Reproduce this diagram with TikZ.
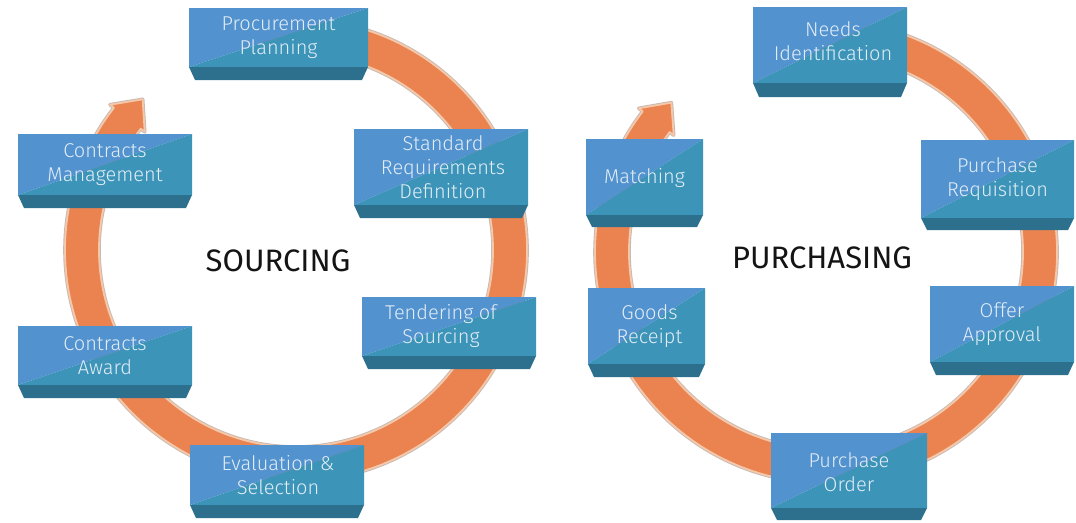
\documentclass[tikz,border=0pt]{standalone}
\usepackage{fontspec}
\setmainfont{Fira Sans}[UprightFont={* Light}]
\newfontfamily\headfont{Fira Sans}
\definecolor{boxA}{RGB}{82,146,207}
\definecolor{boxB}{RGB}{60,148,185}
\definecolor{boxC}{RGB}{45,112,142}
\definecolor{txt}{RGB}{226,237,246}
\definecolor{ringO}{RGB}{234,131,80}
\definecolor{ringEdge}{RGB}{246,200,170}
\definecolor{ringShadow}{RGB}{200,185,178}
\tikzset{
  boxtext/.style={text=txt, align=center, inner sep=0pt, font=\fontsize{20}{24}\selectfont},
  headtext/.style={text={rgb,255:red,20;green,20;blue,20}, inner sep=0pt, font=\headfont\fontsize{31}{36}\selectfont},
  ringback/.style={draw=ringShadow, line width=3.6pt, fill=ringShadow, line join=round},
  ringfront/.style={draw=ringEdge, line width=1.8pt, fill=ringO, line join=round},
}
% name, left, top, right, main bottom, trapezoid bottom, text, text shift
\newcommand\pbox[8]{%
  \fill[boxA] (#2,#3) -- (#4,#3) -- (#2,#5) -- cycle;
  \fill[boxB] (#4,#3) -- (#4,#5) -- (#2,#5) -- cycle;
  \fill[boxC] (#2,#5) -- (#4,#5) -- ({#4-6},#6) -- ({#2+6},#6) -- cycle;
  \node[boxtext, #8] (#1) at ({(#2+#4)/2},{(#3+#5)/2}) {#7};
}
% centre x, centre y, style, base angle, tip angle
\newcommand\ringpath[5]{%
  \begin{scope}[shift={(#1,#2)}]
    \path[#3] (-100:231) arc[start angle=-100, end angle=#4, radius=231]
      -- (#4:236) -- (#5:215) -- (#4:192) -- (#4:197)
      arc[start angle=#4, end angle=-100, radius=197] -- cycle;
  \end{scope}
}
\begin{document}
\begin{tikzpicture}[x=1pt, y=-1pt]
\useasboundingbox[fill=white] (0,0) rectangle (1076,522);
% rings
\ringpath{296}{250}{ringback}{218}{224.5}
\ringpath{296}{250}{ringfront}{218}{224.5}
\ringpath{826}{252}{ringback}{217.5}{224}
\ringpath{826}{252}{ringfront}{217.5}{224}
% centre labels
\node[headtext] (sourcing) at (278,261) {SOURCING};
\node[headtext] (purchasing) at (822,258) {PURCHASING};
% sourcing boxes
\pbox{pp}{189}{8}{368}{67}{80}{Procurement\\Planning}{}
\pbox{srd}{354}{129}{528}{205}{218}{Standard\\Requirements\\Definition}{xshift=2pt}
\pbox{tos}{362}{297}{536}{356}{369}{Tendering of\\Sourcing}{xshift=-8pt}
\pbox{evs}{190}{445}{364}{505}{518}{Evaluation \&\\Selection}{xshift=1pt}
\pbox{ca}{18}{326}{192}{385}{398}{Contracts\\Award}{}
\pbox{cm}{18}{134}{192}{195}{208}{Contracts\\Management}{}
% purchasing boxes
\pbox{ni}{753}{7}{907}{83}{97}{Needs\\Identification}{xshift=3pt, yshift=4pt}
\pbox{pr}{921}{140}{1074}{218}{230}{Purchase\\Requisition}{}
\pbox{oa}{930}{286}{1074}{362}{375}{Offer\\Approval}{}
\pbox{po}{771}{433}{927}{508}{520}{Purchase\\Order}{yshift=-2pt}
\pbox{gr}{588}{288}{705}{364}{377}{Goods\\Receipt}{xshift=3pt}
\pbox{mt}{586}{139}{703}{215}{227}{Matching}{yshift=-1pt}
\end{tikzpicture}
\end{document}
